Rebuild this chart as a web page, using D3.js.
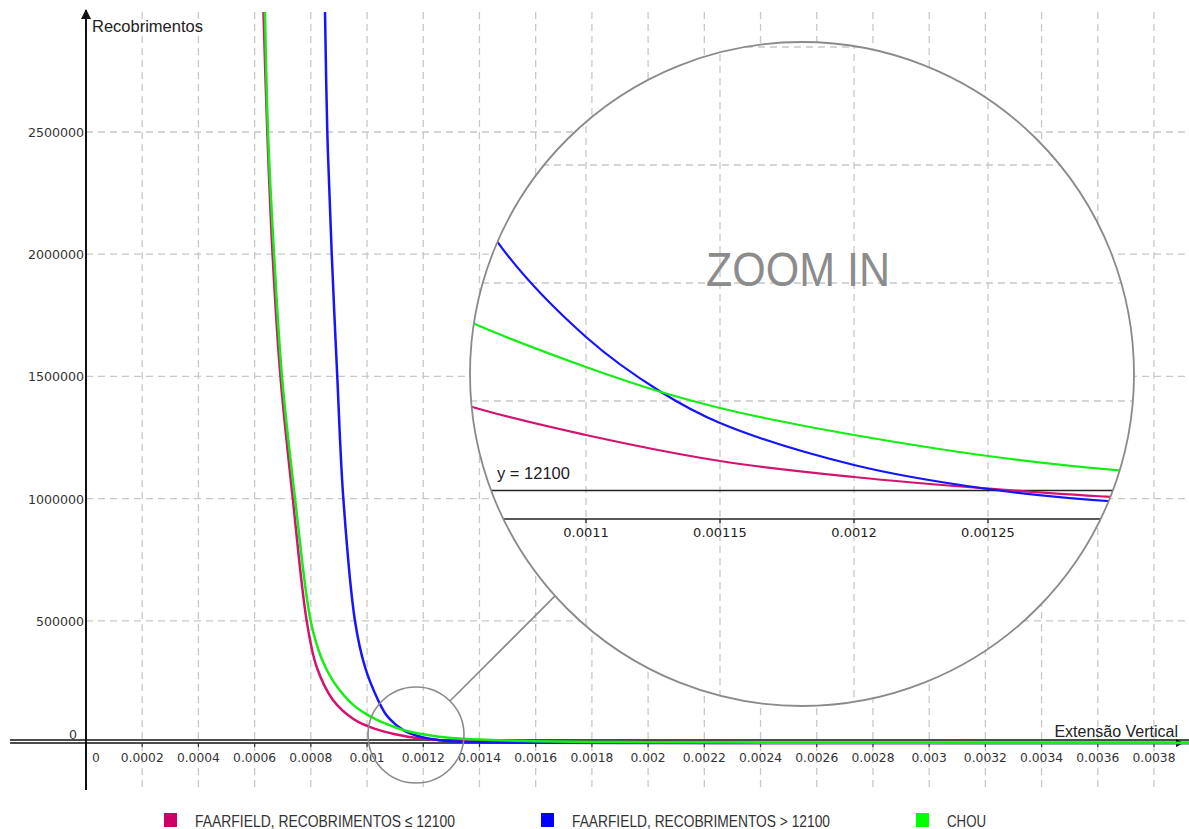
<!DOCTYPE html>
<html>
<head>
<meta charset="utf-8">
<script src="https://cdn.jsdelivr.net/npm/d3@7"></script>
<style>
body { margin: 0; background: #fff; }
svg { display: block; }
</style>
</head>
<body>
<div id="chart"></div>
<script>
var xTicks = [0, 0.0002, 0.0004, 0.0006, 0.0008, 0.001, 0.0012, 0.0014, 0.0016, 0.0018, 0.002,
    0.0022, 0.0024, 0.0026, 0.0028, 0.003, 0.0032, 0.0034, 0.0036, 0.0038];
var yTicks = [0, 500000, 1000000, 1500000, 2000000, 2500000];
var zoomXTicks = [0.0011, 0.00115, 0.0012, 0.00125];
var zoomYGrid = [50000, 100000, 150000, 200000];
var limitValue = 12100;

// FAARFIELD, recobrimentos <= 12100
var lowX = [0.0006315, 0.0006451, 0.0006636, 0.000692, 0.0007355, 0.0007853, 0.0008208, 0.0008788,
    0.00095, 0.001, 0.0010576, 0.0011, 0.00115, 0.0012, 0.00125, 0.0013, 0.0014, 0.0016, 0.002, 0.0025,
    0.003, 0.0035, 0.00395];
var lowY = [2991000, 2500000, 2005000, 1497700, 1002500, 499200, 311000, 176000,
    99000, 70000, 47450, 35590, 24570, 17800, 12900, 9100, 5500, 2500, 800, 350,
    150, 80, 50];

// FAARFIELD, recobrimentos > 12100
var highX = [0.0008504, 0.0008586, 0.0008742, 0.0008941, 0.0009155, 0.0009571, 0.0009927,
    0.001039, 0.0010673, 0.0011, 0.001128, 0.00115, 0.0012, 0.00125, 0.0013, 0.0014, 0.0016, 0.002,
    0.0025, 0.003, 0.00395];
var highY = [2991000, 2500000, 2005000, 1497700, 1002500, 499200, 311000,
    176000, 116940, 77110, 53800, 40680, 22880, 12710, 7200, 3500, 1000, 200,
    60, 20, 5];

// CHOU
var chouX = [0.0006369, 0.0006476, 0.0006689, 0.0006974, 0.0007436, 0.0007995, 0.0008386,
    0.00088, 0.00092, 0.000957, 0.001, 0.001028, 0.0010576, 0.0011, 0.001128, 0.00115, 0.001167, 0.0012,
    0.00125, 0.0013, 0.0014, 0.0015, 0.0016, 0.0018, 0.002, 0.0025, 0.003, 0.0035, 0.00395];
var chouY = [2991000, 2500000, 2005000, 1497700, 1002500, 499200, 345000,
    252000, 192000, 150000, 116000, 99000, 83040, 64400, 53800, 47030, 42700, 35590,
    26690, 20500, 14000, 10000, 7500, 4500, 3000, 1200, 600, 300, 200];

var legendLabels = ["FAARFIELD, RECOBRIMENTOS \u2264 12100", "FAARFIELD, RECOBRIMENTOS > 12100", "CHOU"];
var colors = ["#d4136f", "#1414ff", "#14ee14"];
var legendColors = ["#cc0066", "#0000ff", "#00ff00"];

var width = 1189, height = 829;
var gridColor = "#c8c8c8";
var lens = {cx: 802, cy: 374, r: 332};
var spot = {cx: 416, cy: 735, r: 48};

var x = d3.scaleLinear().domain([0, 0.0038]).range([86, 1154]);
var y = d3.scaleLinear().domain([0, 2500000]).range([743, 132]);
var xz = d3.scaleLinear().domain([0.0011, 0.00125]).range([586, 988]);
var yz = d3.scaleLinear().domain([0, 50000]).range([519, 401]);

function toPoints(xs, ys) {
    return xs.map(function(d, i) { return [d, ys[i]]; });
}
var series = [toPoints(lowX, lowY), toPoints(highX, highY), toPoints(chouX, chouY)];

var svg = d3.select("#chart").append("svg")
    .attr("width", width)
    .attr("height", height)
    .style("background", "#fff");

var defs = svg.append("defs");
defs.append("marker")
    .attr("id", "arrow")
    .attr("viewBox", "0 0 10 10")
    .attr("refX", 9).attr("refY", 5)
    .attr("markerWidth", 5).attr("markerHeight", 5)
    .attr("markerUnits", "strokeWidth")
    .attr("orient", "auto")
    .append("path")
    .attr("d", "M0,0 L10,5 L0,10 z")
    .attr("fill", "#111");
defs.append("clipPath").attr("id", "lensClip")
    .append("circle")
    .attr("cx", lens.cx).attr("cy", lens.cy).attr("r", lens.r);

// grid
var gridG = svg.append("g");
gridG.selectAll(".vgrid")
    .data(xTicks.slice(1))
    .enter().append("line")
    .attr("class", "vgrid")
    .attr("x1", function(d) { return x(d); })
    .attr("x2", function(d) { return x(d); })
    .attr("y1", 12).attr("y2", 790)
    .attr("stroke", gridColor).attr("stroke-width", 1.3)
    .attr("stroke-dasharray", "7,5");
gridG.selectAll(".hgrid")
    .data(yTicks.slice(1))
    .enter().append("line")
    .attr("class", "hgrid")
    .attr("x1", x(0)).attr("x2", width)
    .attr("y1", function(d) { return y(d); })
    .attr("y2", function(d) { return y(d); })
    .attr("stroke", gridColor).attr("stroke-width", 1.3)
    .attr("stroke-dasharray", "7,5");

// axes
var axisG = svg.append("g");
axisG.append("line")
    .attr("x1", x(0)).attr("x2", x(0))
    .attr("y1", 790).attr("y2", 10)
    .attr("stroke", "#111").attr("stroke-width", 2)
    .attr("marker-end", "url(#arrow)");
axisG.append("line")
    .attr("x1", 10).attr("x2", 1183)
    .attr("y1", y(0)).attr("y2", y(0))
    .attr("stroke", "#111").attr("stroke-width", 1.6)
    .attr("marker-end", "url(#arrow)");
axisG.append("line")
    .attr("x1", 10).attr("x2", width)
    .attr("y1", y(limitValue)).attr("y2", y(limitValue))
    .attr("stroke", "#111").attr("stroke-width", 1.4);

axisG.selectAll(".xtick")
    .data(xTicks.slice(1))
    .enter().append("line")
    .attr("class", "xtick")
    .attr("x1", function(d) { return x(d); })
    .attr("x2", function(d) { return x(d); })
    .attr("y1", y(0)).attr("y2", y(0) + 4)
    .attr("stroke", "#333").attr("stroke-width", 1.2);

axisG.selectAll(".xlabel")
    .data(xTicks)
    .enter().append("text")
    .attr("class", "xlabel")
    .attr("x", function(d) { return d === 0 ? x(0) + 10 : x(d); })
    .attr("y", 762)
    .attr("text-anchor", "middle")
    .style("font-family", "'DejaVu Sans', sans-serif")
    .style("font-size", "12.3px")
    .attr("fill", "#333")
    .text(function(d) { return String(d); });

axisG.selectAll(".ylabel")
    .data(yTicks)
    .enter().append("text")
    .attr("class", "ylabel")
    .attr("x", function(d) { return d === 0 ? 77 : 84; })
    .attr("y", function(d) { return d === 0 ? 739 : y(d) + 5; })
    .attr("text-anchor", "end")
    .style("font-family", "'DejaVu Sans', sans-serif")
    .style("font-size", "12.6px")
    .attr("fill", "#333")
    .text(function(d) { return String(d); });

axisG.append("text")
    .attr("x", 92).attr("y", 32)
    .style("font-family", "'Liberation Sans', Arial, sans-serif")
    .style("font-size", "16.5px")
    .attr("fill", "#222")
    .text("Recobrimentos");
axisG.append("text")
    .attr("x", 1178).attr("y", 737)
    .attr("text-anchor", "end")
    .style("font-family", "'Liberation Sans', Arial, sans-serif")
    .style("font-size", "16px")
    .attr("fill", "#222")
    .text("Extens\u00e3o Vertical");

// curves
var mainLine = d3.line()
    .x(function(d) { return x(d[0]); })
    .y(function(d) { return y(d[1]); })
    .curve(d3.curveCatmullRom.alpha(0.5));
svg.append("g").selectAll(".curve")
    .data(series)
    .enter().append("path")
    .attr("class", "curve")
    .attr("d", mainLine)
    .attr("fill", "none")
    .attr("stroke", function(d, i) { return colors[i]; })
    .attr("stroke-width", 2.5);

// zoom lens
var lensG = svg.append("g");
lensG.append("circle")
    .attr("cx", spot.cx).attr("cy", spot.cy).attr("r", spot.r)
    .attr("fill", "none").attr("stroke", "#8a8a8a").attr("stroke-width", 1.6);

// connector at 45 degrees from the small circle out to the big one
var ux = Math.SQRT1_2, uy = -Math.SQRT1_2;
var ox = spot.cx - lens.cx, oy = spot.cy - lens.cy;
var bq = ox * ux + oy * uy;
var cq = ox * ox + oy * oy - lens.r * lens.r;
var tq = -bq - Math.sqrt(bq * bq - cq);
lensG.append("line")
    .attr("x1", spot.cx + spot.r * ux)
    .attr("y1", spot.cy + spot.r * uy)
    .attr("x2", spot.cx + tq * ux)
    .attr("y2", spot.cy + tq * uy)
    .attr("stroke", "#8a8a8a").attr("stroke-width", 1.6);

lensG.append("circle")
    .attr("cx", lens.cx).attr("cy", lens.cy).attr("r", lens.r)
    .attr("fill", "#fff");

var inner = lensG.append("g").attr("clip-path", "url(#lensClip)");
inner.selectAll(".zvgrid")
    .data(zoomXTicks)
    .enter().append("line")
    .attr("class", "zvgrid")
    .attr("x1", function(d) { return xz(d); })
    .attr("x2", function(d) { return xz(d); })
    .attr("y1", lens.cy - lens.r).attr("y2", lens.cy + lens.r)
    .attr("stroke", gridColor).attr("stroke-width", 1.3)
    .attr("stroke-dasharray", "7,5");
inner.selectAll(".zhgrid")
    .data(zoomYGrid)
    .enter().append("line")
    .attr("class", "zhgrid")
    .attr("x1", lens.cx - lens.r).attr("x2", lens.cx + lens.r)
    .attr("y1", function(d) { return yz(d); })
    .attr("y2", function(d) { return yz(d); })
    .attr("stroke", gridColor).attr("stroke-width", 1.3)
    .attr("stroke-dasharray", "7,5");

inner.append("text")
    .attr("x", 706).attr("y", 286)
    .attr("textLength", 184)
    .attr("lengthAdjust", "spacingAndGlyphs")
    .style("font-family", "'Liberation Sans', Arial, sans-serif")
    .style("font-size", "48px")
    .attr("fill", "#8c8c8c")
    .text("ZOOM IN");

inner.append("line")
    .attr("x1", lens.cx - lens.r).attr("x2", lens.cx + lens.r)
    .attr("y1", yz(0)).attr("y2", yz(0))
    .attr("stroke", "#222").attr("stroke-width", 1.5);
inner.append("line")
    .attr("x1", lens.cx - lens.r).attr("x2", lens.cx + lens.r)
    .attr("y1", yz(limitValue)).attr("y2", yz(limitValue))
    .attr("stroke", "#222").attr("stroke-width", 1.5);
inner.selectAll(".ztick")
    .data(zoomXTicks)
    .enter().append("line")
    .attr("class", "ztick")
    .attr("x1", function(d) { return xz(d); })
    .attr("x2", function(d) { return xz(d); })
    .attr("y1", yz(0)).attr("y2", yz(0) + 4)
    .attr("stroke", "#222").attr("stroke-width", 1.3);
inner.selectAll(".zlabel")
    .data(zoomXTicks)
    .enter().append("text")
    .attr("class", "zlabel")
    .attr("x", function(d) { return xz(d); })
    .attr("y", 537)
    .attr("text-anchor", "middle")
    .style("font-family", "'DejaVu Sans', sans-serif")
    .style("font-size", "13px")
    .attr("fill", "#222")
    .text(function(d) { return String(d); });
inner.append("text")
    .attr("x", 497).attr("y", 479)
    .style("font-family", "'Liberation Sans', Arial, sans-serif")
    .style("font-size", "16.5px")
    .attr("fill", "#222")
    .text("y = " + limitValue);

var zoomLine = d3.line()
    .x(function(d) { return xz(d[0]); })
    .y(function(d) { return yz(d[1]); })
    .curve(d3.curveCatmullRom.alpha(0.5));
inner.selectAll(".zcurve")
    .data(series)
    .enter().append("path")
    .attr("class", "zcurve")
    .attr("d", zoomLine)
    .attr("fill", "none")
    .attr("stroke", function(d, i) { return colors[i]; })
    .attr("stroke-width", 2.2);

lensG.append("circle")
    .attr("cx", lens.cx).attr("cy", lens.cy).attr("r", lens.r)
    .attr("fill", "none").attr("stroke", "#8a8a8a").attr("stroke-width", 1.8);

// legend
var legendX = [164, 541, 916];
var legendW = [260, 258, 39];
var legendG = svg.append("g");
var item = legendG.selectAll(".item")
    .data(legendLabels)
    .enter().append("g")
    .attr("class", "item")
    .attr("transform", function(d, i) { return "translate(" + legendX[i] + ",813)"; });
item.append("rect")
    .attr("width", 13).attr("height", 14)
    .attr("fill", function(d, i) { return legendColors[i]; });
item.append("text")
    .attr("x", 31).attr("y", 13.5)
    .attr("textLength", function(d, i) { return legendW[i]; })
    .attr("lengthAdjust", "spacingAndGlyphs")
    .style("font-family", "'Liberation Sans', Arial, sans-serif")
    .style("font-size", "17px")
    .attr("fill", "#333")
    .text(function(d) { return d; });
</script>
</body>
</html>
